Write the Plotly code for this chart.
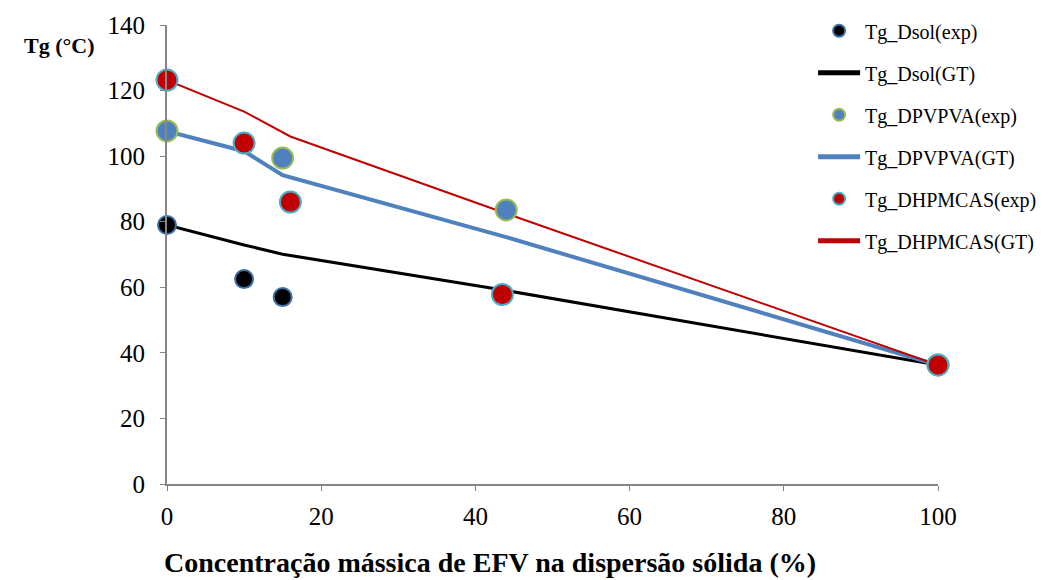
import plotly.graph_objects as go

# EFV mass concentration in the solid dispersion (%)
x_dsol_exp = [0, 10, 15, 100]
tg_dsol_exp = [79, 62.5, 57, 36.3]
x_dsol_gt = [0, 10, 15, 44, 100]
tg_dsol_gt = [79, 72.9, 70.1, 59, 36.3]

x_pvpva_exp = [0, 15, 44, 100]
tg_pvpva_exp = [107.7, 99.4, 83.6, 36.3]
x_pvpva_gt = [0, 10, 15, 44, 100]
tg_pvpva_gt = [107.6, 101.5, 94.2, 75.3, 36.3]

x_hpmcas_exp = [0, 10, 16, 43.5, 100]
tg_hpmcas_exp = [123.2, 104, 86, 57.8, 36.3]
x_hpmcas_gt = [0, 10, 16, 44, 100]
tg_hpmcas_gt = [123.2, 113.6, 106, 82.5, 36.3]

x_ticks = [0, 20, 40, 60, 80, 100]
y_ticks = [0, 20, 40, 60, 80, 100, 120, 140]

serif = "Liberation Serif, Times New Roman, serif"

fig = go.Figure()

# lines first so the markers sit on top
lines = [
    ("Tg_Dsol(GT)", x_dsol_gt, tg_dsol_gt, "black", 3, 2),
    ("Tg_DPVPVA(GT)", x_pvpva_gt, tg_pvpva_gt, "#4f81bd", 4, 4),
    ("Tg_DHPMCAS(GT)", x_hpmcas_gt, tg_hpmcas_gt, "#c00000", 2, 6),
]
for name, xs, ys, color, width, rank in lines:
    fig.add_trace(go.Scatter(
        x=xs, y=ys, mode="lines", name=name,
        line=dict(color=color, width=width),
        legendgroup=name, legendrank=rank, cliponaxis=False,
    ))

markers = [
    ("Tg_Dsol(exp)", x_dsol_exp, tg_dsol_exp, "black", "#3d6fa8", 18, 1),
    ("Tg_DPVPVA(exp)", x_pvpva_exp, tg_pvpva_exp, "#4f81bd", "#9bbb59", 21, 3),
    ("Tg_DHPMCAS(exp)", x_hpmcas_exp, tg_hpmcas_exp, "#c00000", "#4bacc6", 21, 5),
]
for name, xs, ys, fill, edge, size, rank in markers:
    fig.add_trace(go.Scatter(
        x=xs, y=ys, mode="markers", name=name,
        marker=dict(color=fill, size=size, line=dict(color=edge, width=2)),
        legendgroup=name, legendrank=rank, cliponaxis=False,
    ))

# page body has an 8px margin, so the figure is a bit smaller than the window
fig.update_layout(
    width=1043, height=572,
    margin=dict(l=159, r=113, t=17, b=96, autoexpand=False),
    paper_bgcolor="white", plot_bgcolor="white",
    font=dict(family=serif, size=25, color="black"),
    showlegend=True,
    legend=dict(
        x=0.838, xanchor="left", y=1.03, yanchor="top",
        traceorder="grouped", tracegroupgap=13,
        itemsizing="constant", itemwidth=42,
        font=dict(family=serif, size=20),
        bgcolor="rgba(0,0,0,0)",
    ),
    annotations=[
        dict(text="<b>Tg (°C)</b>", xref="paper", yref="paper",
             x=-0.139, y=0.956, xanchor="center", yanchor="middle",
             showarrow=False, font=dict(family=serif, size=22)),
        dict(text="<b>Concentração mássica de EFV na dispersão sólida (%)</b>",
             xref="paper", yref="paper", x=0.419, y=-0.172,
             xanchor="center", yanchor="middle", showarrow=False,
             font=dict(family=serif, size=28)),
    ],
)

fig.update_xaxes(
    range=[0, 100], tickvals=x_ticks, showgrid=False, zeroline=False,
    showline=True, linecolor="#868686", linewidth=2,
    ticks="outside", tickcolor="#868686", ticklen=5, ticklabelstandoff=4,
)
fig.update_yaxes(
    range=[0, 140], tickvals=y_ticks, showgrid=False, zeroline=False,
    showline=True, linecolor="#868686", linewidth=2,
    ticks="outside", tickcolor="#868686", ticklen=5, ticklabelstandoff=10,
)

fig.write_html("out.html")
